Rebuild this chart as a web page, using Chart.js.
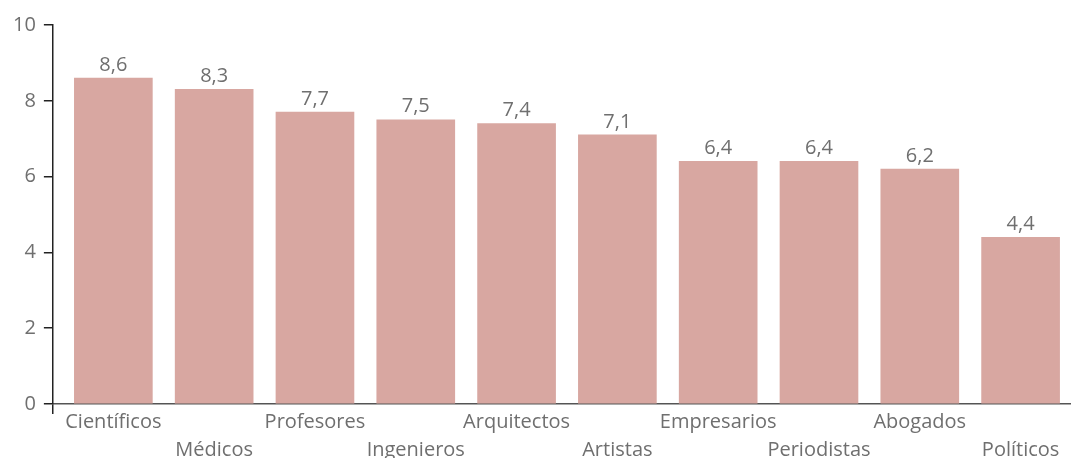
<!DOCTYPE html>
<html>
<head>
<meta charset="utf-8">
<script src="https://cdn.jsdelivr.net/npm/chart.js@4.4.1/dist/chart.umd.min.js"></script>
<style>
  html, body { margin: 0; padding: 0; background: #fff; }
  #wrap { width: 1071px; height: 459px; }
</style>
</head>
<body>
<div id="wrap"><canvas id="graph"></canvas></div>
<script>
// valoración media por profesión (0-10)
var professions = ["Científicos", "Médicos", "Profesores", "Ingenieros", "Arquitectos",
                   "Artistas", "Empresarios", "Periodistas", "Abogados", "Políticos"];
var scores = [8.6, 8.3, 7.7, 7.5, 7.4, 7.1, 6.4, 6.4, 6.2, 4.4];
var yTicks = [0, 2, 4, 6, 8, 10];

var FONT = "'Open Sans'";
var GREY = "#6f6f6f";

// put the value over each bar, with a decimal comma
var barLabels = {
    id: "barLabels",
    afterDatasetsDraw: function(chart) {
        var ctx = chart.ctx;
        var meta = chart.getDatasetMeta(0);
        ctx.save();
        ctx.font = "20px " + FONT;
        ctx.fillStyle = GREY;
        ctx.textAlign = "center";
        ctx.textBaseline = "bottom";
        meta.data.forEach(function(bar, i) {
            ctx.fillText(scores[i].toFixed(1).replace(".", ","), bar.x, bar.y - 3);
        });
        ctx.restore();
    }
};

var points = scores.map(function(v, i) { return {x: i, y: v}; });

var ctx = document.getElementById("graph").getContext("2d");
var chart = new Chart(ctx, {
    type: "bar",
    data: {
        datasets: [{
            data: points,
            backgroundColor: "#d8a7a1",
            barThickness: 78
        }]
    },
    options: {
        responsive: true,
        maintainAspectRatio: false,
        animation: false,
        layout: { padding: { left: 5, top: 25, right: 0, bottom: 1 } },
        plugins: {
            legend: { display: false },
            tooltip: { enabled: false }
        },
        scales: {
            x: {
                type: "linear",
                offset: false,
                min: -0.6,
                max: 9.5,
                afterBuildTicks: function(axis) {
                    var t = [{value: -0.6}];
                    for (var i = 0; i < professions.length; i++) t.push({value: i});
                    axis.ticks = t;
                },
                grid: {
                    offset: false,
                    drawOnChartArea: false,
                    tickLength: 10,
                    lineWidth: 1.5,
                    color: function(c) {
                        return (c.tick && c.tick.value < 0) ? "#222" : "rgba(0,0,0,0)";
                    }
                },
                border: { color: "#555", width: 1.5 },
                ticks: {
                    autoSkip: false,
                    maxRotation: 0,
                    padding: -6,
                    color: GREY,
                    font: { family: FONT, size: 20, lineHeight: 1.4 },
                    callback: function(value) {
                        if (!Number.isInteger(value) || value < 0) return "";
                        return value % 2 ? ["", professions[value]] : professions[value];
                    }
                }
            },
            y: {
                min: 0,
                max: 10,
                afterBuildTicks: function(axis) {
                    axis.ticks = yTicks.map(function(v) { return {value: v}; });
                },
                grid: {
                    drawOnChartArea: false,
                    tickLength: 9,
                    lineWidth: 1.5,
                    color: "#222"
                },
                border: { color: "#222", width: 1.5 },
                ticks: {
                    padding: 8,
                    color: GREY,
                    font: { family: FONT, size: 20 }
                }
            }
        }
    },
    plugins: [barLabels]
});
</script>
</body>
</html>
